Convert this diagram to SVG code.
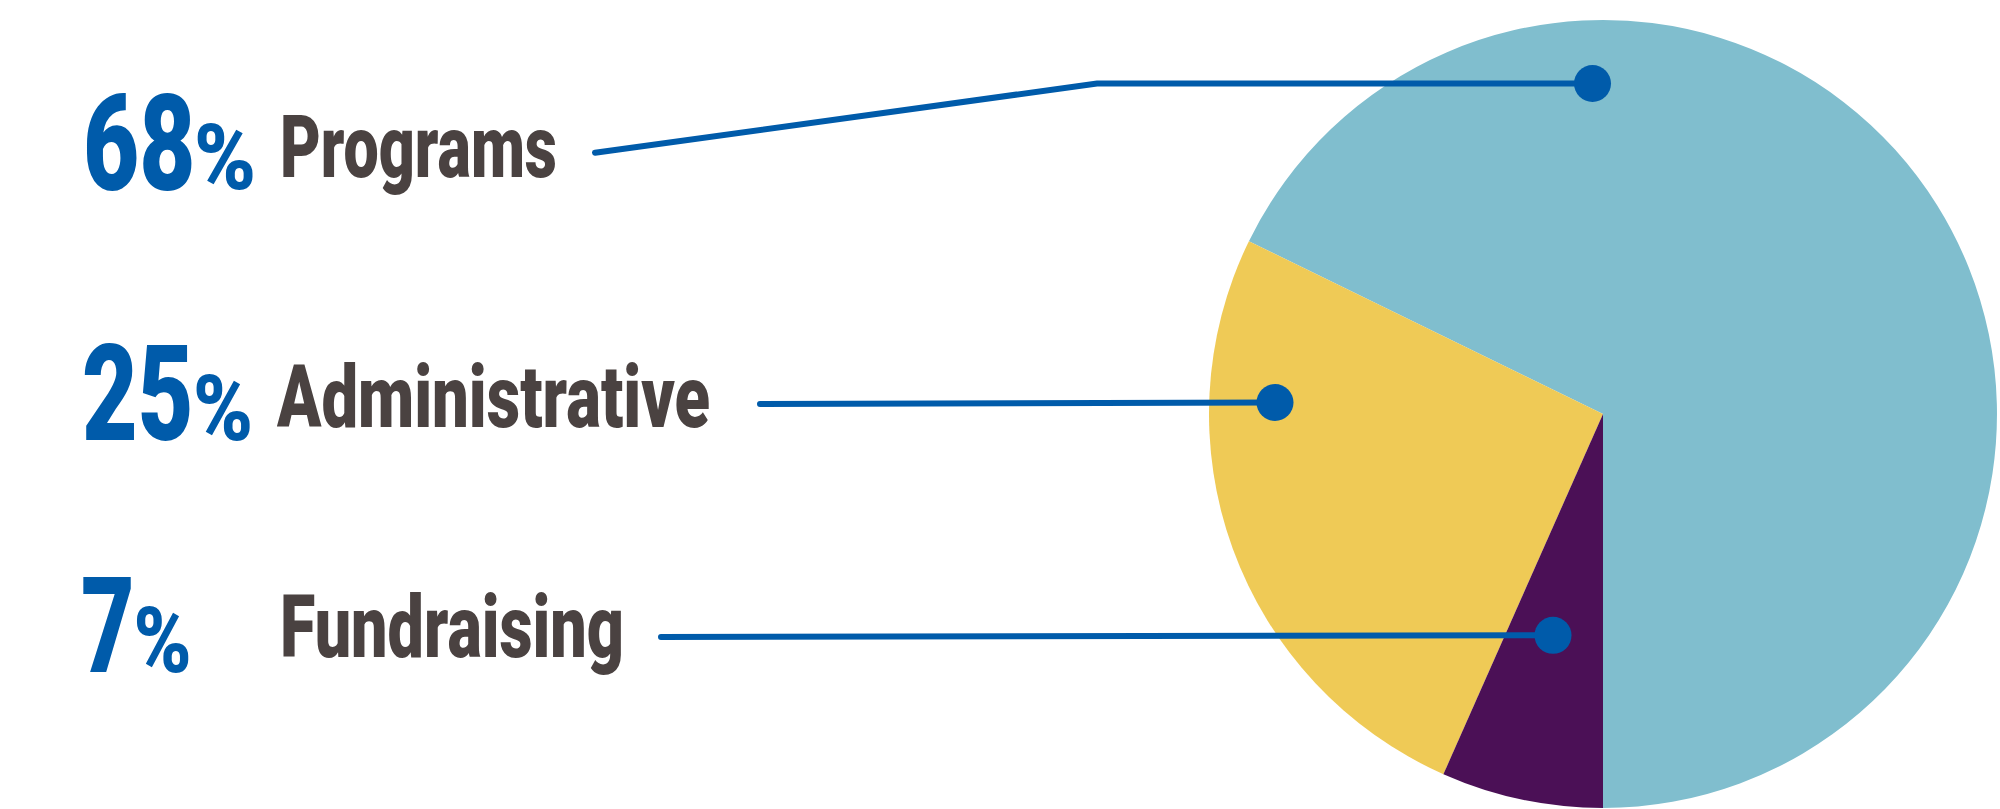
<svg xmlns="http://www.w3.org/2000/svg" width="2000" height="809" viewBox="0 0 2000 809">
  <style>
    .pct { font-family: Roboto, "Liberation Sans", Arial, sans-serif; font-weight: 900; fill: #005BAA; }
    .big { font-size: 134px; }
    .sign { font-size: 90px; }
    .lbl { font-family: Roboto, "Liberation Sans", Arial, sans-serif; font-weight: 900; font-size: 87px; fill: #4A4241; }
    .conn { fill: none; stroke: #005BAA; stroke-width: 6; stroke-linecap: round; stroke-linejoin: miter; marker-end: url(#dot); }
  </style>
  <defs>
    <marker id="dot" markerUnits="userSpaceOnUse" markerWidth="40" markerHeight="40" viewBox="-20 -20 40 40" refX="0" refY="0" orient="0">
      <circle cx="0" cy="0" r="18.5" fill="#005BAA"/>
    </marker>
  </defs>
  <rect width="2000" height="809" fill="#FFFFFF"/>

  <g id="programs">
    <path d="M1603,414 L1248.9,241.2 A394,394 0 1 1 1603,808 Z" fill="#80BECE"/>
    <text class="pct big" transform="translate(83,190) scale(0.724,1)">68</text>
    <text class="pct sign" transform="translate(194,188.5) scale(0.93,1)">%</text>
    <text class="lbl" x="280" y="176.7" textLength="277" lengthAdjust="spacingAndGlyphs">Programs</text>
  </g>

  <g id="administrative">
    <path d="M1603,414 L1443.4,774.2 A394,394 0 0 1 1248.9,241.2 Z" fill="#EFCA56"/>
    <text class="pct big" transform="translate(82,439.5) scale(0.718,1)">25</text>
    <text class="pct sign" transform="translate(193,439.5) scale(0.9,1)">%</text>
    <text class="lbl" x="277" y="426.7" textLength="433" lengthAdjust="spacingAndGlyphs">Administrative</text>
  </g>

  <g id="fundraising">
    <path d="M1603,414 L1603,808 A394,394 0 0 1 1443.4,774.2 Z" fill="#4B1056"/>
    <text class="pct big" transform="translate(81,671.7) scale(0.69,1)">7</text>
    <text class="pct sign" transform="translate(133.5,671.5) scale(0.87,1)">%</text>
    <text class="lbl" x="280" y="657.3" textLength="344" lengthAdjust="spacingAndGlyphs">Fundraising</text>
  </g>

  <g id="connectors">
    <polyline class="conn" points="595,152.7 1097,83.5 1592.5,83.5"/>
    <polyline class="conn" points="760,404 1275,402.5"/>
    <polyline class="conn" points="661,637 1553,635.3"/>
  </g>
</svg>
